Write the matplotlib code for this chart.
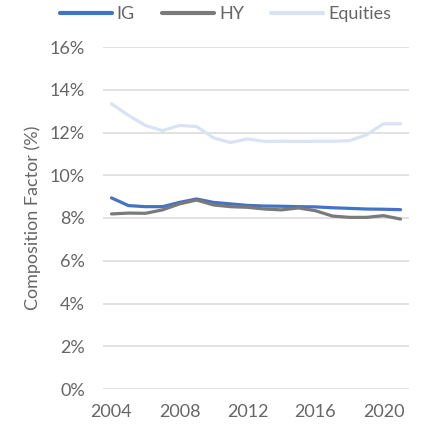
import matplotlib
matplotlib.use("Agg")
import matplotlib.pyplot as plt

plt.rcParams['font.family'] = ['Lato', 'DejaVu Sans']

years = list(range(2004, 2022))
ig = [8.94, 8.58, 8.53, 8.53, 8.73, 8.89, 8.73, 8.66, 8.59, 8.56,
      8.55, 8.53, 8.52, 8.48, 8.45, 8.42, 8.41, 8.39]
hy = [8.19, 8.23, 8.22, 8.38, 8.66, 8.84, 8.61, 8.53, 8.50, 8.42,
      8.38, 8.47, 8.34, 8.09, 8.03, 8.03, 8.11, 7.95]
equities = [13.34, 12.80, 12.33, 12.09, 12.33, 12.28, 11.75, 11.53, 11.70, 11.58,
            11.59, 11.58, 11.59, 11.59, 11.62, 11.89, 12.41, 12.41]
xticks = [2004, 2008, 2012, 2016, 2020]
yticks = [0, 2, 4, 6, 8, 10, 12, 14, 16]

txt = '#666666'
fs = 13

fig = plt.figure(figsize=(4.34, 4.30), dpi=100)
ax = fig.add_axes([103/434, 41/430, 306/434, 342/430])

ax.plot(years, ig, color='#4472C4', lw=2.3, label='IG', solid_capstyle='round')
ax.plot(years, hy, color='#7A7A7A', lw=2.3, label='HY', solid_capstyle='round')
ax.plot(years, equities, color='#DAE3F3', lw=2.3, label='Equities', solid_capstyle='round')

ax.set_xlim(2003.5, 2021.5)
ax.set_ylim(0, 16)
ax.set_yticks(yticks)
ax.set_yticklabels([f'{v}%' for v in yticks])
ax.set_xticks(xticks)
ax.set_xticklabels([str(v) for v in xticks])
ax.grid(axis='y', color='#D9D9D9', lw=1.1)
ax.set_axisbelow(True)
for s in ax.spines.values():
    s.set_visible(False)
ax.tick_params(length=0, colors=txt, labelsize=fs)
ax.tick_params(axis='y', pad=13)
ax.tick_params(axis='x', pad=11)
ax.set_ylabel('Composition Factor (%)', color=txt, fontsize=fs, labelpad=6)

leg = fig.legend(loc='upper left', bbox_to_anchor=(60/434, 1 - 6/430), ncol=3, frameon=False,
                 fontsize=fs, handlelength=2.9, handletextpad=0.25, columnspacing=1.5,
                 borderpad=0, borderaxespad=0, labelcolor=txt)
for h in leg.get_lines():
    h.set_linewidth(3)

fig.savefig('out.png', dpi=100)
